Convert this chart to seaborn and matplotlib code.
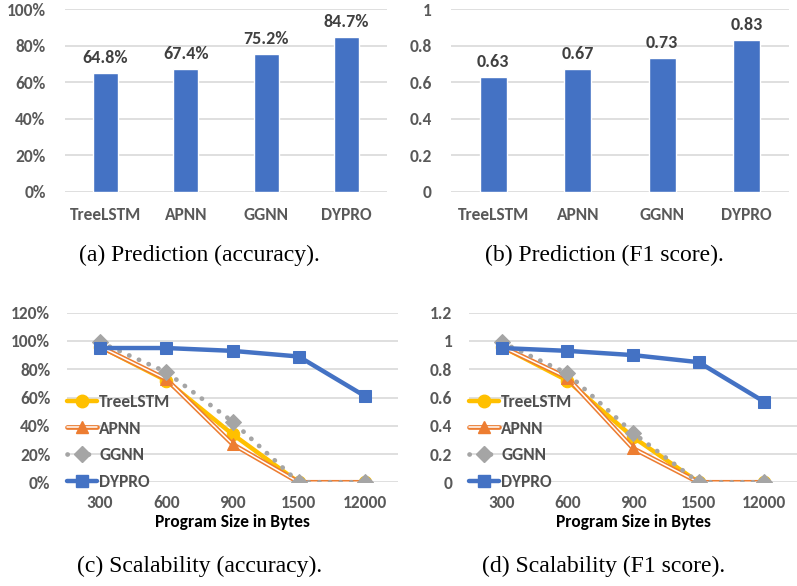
import matplotlib
matplotlib.use('Agg')
import matplotlib.pyplot as plt
from matplotlib.lines import Line2D
from matplotlib.legend_handler import HandlerTuple
import seaborn as sns
import pandas as pd

models = ['TreeLSTM', 'APNN', 'GGNN', 'DYPRO']
accuracy = [64.8, 67.4, 75.2, 84.7]
f1 = [0.63, 0.67, 0.73, 0.83]

sizes = ['300', '600', '900', '1500', '12000']
acc_tree = [96, 72, 34, 0, 0]
acc_apnn = [96, 73, 27, 0, 0]
acc_ggnn = [99, 78, 43, 0, 0]
acc_dypro = [95, 95, 93, 89, 61]
f1_tree = [0.96, 0.72, 0.32, 0, 0]
f1_apnn = [0.96, 0.74, 0.24, 0, 0]
f1_ggnn = [0.99, 0.77, 0.35, 0, 0]
f1_dypro = [0.95, 0.93, 0.90, 0.85, 0.57]

captions = ['(a) Prediction (accuracy).', '(b) Prediction (F1 score).',
            '(c) Scalability (accuracy).', '(d) Scalability (F1 score).']

sns.set_style('white')
plt.rcParams['font.family'] = ['Carlito', 'DejaVu Sans']
plt.rcParams['font.weight'] = 'bold'

BLUE = '#4472C4'
ORANGE = '#ED7D31'
GREY = '#A5A5A5'
YELLOW = '#FFC000'
TICK = '#595959'
GRID = '#D9D9D9'

W, H = 797, 586
fig = plt.figure(figsize=(W / 100, H / 100), dpi=100)


def px_axes(x0, x1, y_top, y_bot):
    return fig.add_axes([x0 / W, 1 - y_bot / H, (x1 - x0) / W, (y_bot - y_top) / H])


def style_axes(ax, ylim, yticks, ylabels, ypad, xpad):
    ax.set_ylim(*ylim)
    ax.set_yticks(yticks)
    ax.set_yticklabels(ylabels)
    ax.yaxis.grid(True, color=GRID, linewidth=1.2)
    ax.set_axisbelow(True)
    for s in ax.spines.values():
        s.set_visible(False)
    ax.tick_params(axis='both', length=0, labelsize=12.5, labelcolor=TICK)
    ax.tick_params(axis='y', pad=ypad)
    ax.tick_params(axis='x', pad=xpad)
    ax.set_xlabel('')
    ax.set_ylabel('')


# (a) accuracy bars
ax_a = px_axes(65, 387, 9, 192)
sns.barplot(x=models, y=accuracy, color=BLUE, saturation=1, width=0.31, ax=ax_a)
ax_a.bar_label(ax_a.containers[0], labels=[f'{v:.1f}%' for v in accuracy],
               padding=5, fontsize=13, color='#404040')
style_axes(ax_a, (0, 100), [0, 20, 40, 60, 80, 100],
           [f'{t}%' for t in [0, 20, 40, 60, 80, 100]], 14, 11)

# (b) F1 bars
ax_b = px_axes(451, 789, 9, 192)
sns.barplot(x=models, y=f1, color=BLUE, saturation=1, width=0.32, ax=ax_b)
ax_b.bar_label(ax_b.containers[0], labels=[f'{v:.2f}' for v in f1],
               padding=5, fontsize=13, color='#404040')
style_axes(ax_b, (0, 1), [0, 0.2, 0.4, 0.6, 0.8, 1],
           ['0', '0.2', '0.4', '0.6', '0.8', '1'], 14, 11)

DOTS = (0, (0.05, 2.2))


def line_panel(ax, tree, apnn, ggnn, dypro):
    pos = list(range(len(sizes)))
    df = pd.DataFrame({'pos': pos, 'tree': tree, 'apnn': apnn, 'ggnn': ggnn, 'dypro': dypro})
    sns.lineplot(data=df, x='pos', y='tree', ax=ax, color=YELLOW, linewidth=3.2,
                 marker='o', markersize=9, mec=YELLOW, mfc=YELLOW, legend=False)
    sns.lineplot(data=df, x='pos', y='apnn', ax=ax, color=ORANGE, linewidth=3.4,
                 legend=False)
    sns.lineplot(data=df, x='pos', y='apnn', ax=ax, color='white', linewidth=1.1,
                 legend=False)
    sns.lineplot(data=df, x='pos', y='apnn', ax=ax, color=ORANGE, linewidth=0,
                 marker='^', markersize=9, mec=ORANGE, mfc=ORANGE, legend=False)
    sns.lineplot(data=df, x='pos', y='ggnn', ax=ax, color=GREY, linewidth=3.4,
                 linestyle=DOTS, dash_capstyle='round',
                 marker='D', markersize=8, mec=GREY, mfc=GREY, legend=False)
    sns.lineplot(data=df, x='pos', y='dypro', ax=ax, color=BLUE, linewidth=3.2,
                 marker='s', markersize=8.5, mec=BLUE, mfc=BLUE, legend=False)
    ax.set_xlim(-0.5, len(sizes) - 0.5)
    ax.set_xticks(pos)
    ax.set_xticklabels(sizes)

    h_tree = Line2D([], [], color=YELLOW, lw=3.2, marker='o', ms=9, mec=YELLOW)
    h_apnn = (Line2D([], [], color=ORANGE, lw=3.4),
              Line2D([], [], color='white', lw=1.1),
              Line2D([], [], color=ORANGE, lw=0, marker='^', ms=9, mec=ORANGE))
    h_ggnn = Line2D([], [], color=GREY, lw=3.4, linestyle=DOTS,
                    dash_capstyle='round', marker='D', ms=8, mec=GREY)
    h_dypro = Line2D([], [], color=BLUE, lw=3.2, marker='s', ms=8.5, mec=BLUE)
    leg = ax.legend([h_tree, h_apnn, h_ggnn, h_dypro], models,
                    handler_map={tuple: HandlerTuple(ndivide=1)},
                    loc='center left', bbox_to_anchor=(0.0, 0.238),
                    frameon=False, borderpad=0, borderaxespad=0,
                    handlelength=1.75, handletextpad=0.1, labelspacing=0.62,
                    prop={'weight': 'bold', 'size': 12.5})
    for t in leg.get_texts():
        t.set_color('#505050')


# (c) scalability accuracy
ax_c = px_axes(67, 398, 312.7, 482.3)
line_panel(ax_c, acc_tree, acc_apnn, acc_ggnn, acc_dypro)
style_axes(ax_c, (0, 120), [0, 20, 40, 60, 80, 100, 120],
           [f'{t}%' for t in [0, 20, 40, 60, 80, 100, 120]], 12, 9)

# (d) scalability F1
ax_d = px_axes(469, 797, 312.7, 482.3)
line_panel(ax_d, f1_tree, f1_apnn, f1_ggnn, f1_dypro)
style_axes(ax_d, (0, 1.2), [0, 0.2, 0.4, 0.6, 0.8, 1, 1.2],
           ['0', '0.2', '0.4', '0.6', '0.8', '1', '1.2'], 12, 9)

for ax in (ax_c, ax_d):
    ax.set_xlabel('Program Size in Bytes', fontsize=12.5, fontweight='bold',
                  color='black', labelpad=2)

for cap, (cx, cy) in zip(captions, [(199, 255), (604, 255), (200, 566), (604, 566)]):
    fig.text(cx / W, 1 - cy / H, cap, ha='center', va='center', fontsize=17,
             fontweight='normal', family=['Liberation Serif', 'DejaVu Serif'],
             color='black')

fig.savefig('out.png', dpi=100)
